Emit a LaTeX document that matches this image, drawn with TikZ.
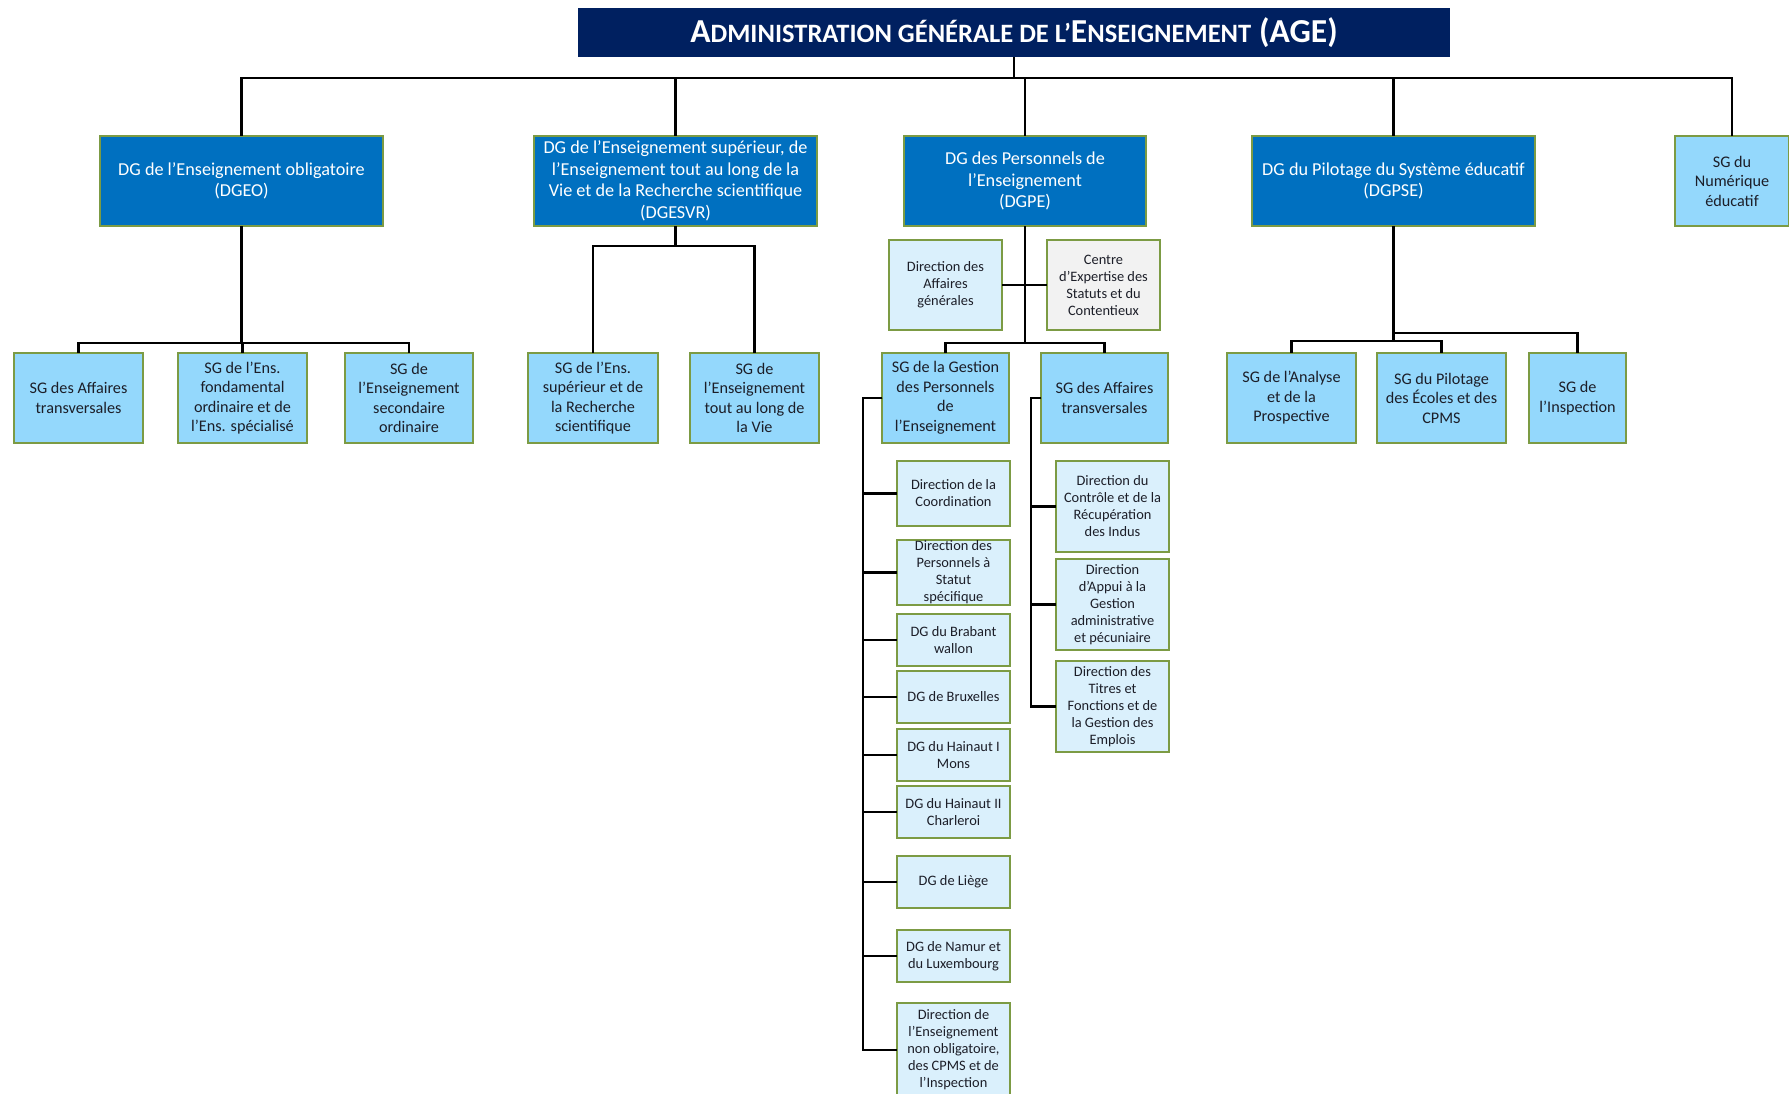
\documentclass[tikz,border=0pt]{standalone}
\usepackage{fontspec}
\setmainfont{Carlito}
\usepackage{xcolor}
\usepackage{tikz}
\usetikzlibrary{positioning}

\definecolor{navy}{RGB}{0,32,96}
\definecolor{dgblue}{RGB}{0,112,192}
\definecolor{sgblue}{RGB}{148,216,252}
\definecolor{dirblue}{RGB}{218,240,252}
\definecolor{cgrey}{RGB}{242,242,242}
\definecolor{boxgreen}{RGB}{124,155,68}
\definecolor{txtdark}{RGB}{28,30,40}

\begin{document}
\begin{tikzpicture}[x=1pt, y=-1pt,
  dg/.style={draw=boxgreen, line width=2.4pt, outer sep=0pt, fill=dgblue, text=white, align=center, inner sep=0pt, minimum height=90pt, font=\fontsize{18.2}{21.5}\selectfont},
  sg/.style={draw=boxgreen, line width=2.4pt, outer sep=0pt, fill=sgblue, text=txtdark, align=center, inner sep=0pt, minimum height=90pt, font=\fontsize{16.2}{19.5}\selectfont},
  dir/.style={draw=boxgreen, line width=2.4pt, outer sep=0pt, fill=dirblue, text=txtdark, align=center, inner sep=0pt, minimum width=113pt, font=\fontsize{14.4}{17}\selectfont},
  link/.style={draw=black, line width=2.1pt}]
 \useasboundingbox (0,0) rectangle (1789,1093);
 % top of the chart
 \node[fill=navy, text=white, minimum width=872pt, minimum height=49pt, font=\bfseries] (AGE) at (1014,32.5)
  {{\fontsize{33.5}{33}\selectfont A}{\fontsize{26.5}{33}\selectfont DMINISTRATION GÉNÉRALE DE L’}{\fontsize{33.5}{33}\selectfont E}{\fontsize{26.5}{33}\selectfont NSEIGNEMENT}\hspace{8pt}{\fontsize{33.5}{33}\selectfont (AGE)}};
 % general directorates
 \node[dg, minimum width=283pt] (DGEO) at (241.5,181) {DG de l’Enseignement obligatoire\\(DGEO)};
 \node[dg, minimum width=283pt] (DGESVR) at (675.5,181) {DG de l’Enseignement supérieur, de\\l’Enseignement tout au long de la\\Vie et de la Recherche scientifique\\(DGESVR)};
 \node[dg, minimum width=242pt] (DGPE) at (1025,181) {DG des Personnels de\\l’Enseignement\\(DGPE)};
 \node[dg, minimum width=283pt] (DGPSE) at (1393.5,181) {DG du Pilotage du Système éducatif\\(DGPSE)};
 \node[sg, minimum width=114pt] (SG_Num) at (1732,181) {SG du\\Numérique\\éducatif};
 % DGEO
 \node[sg, minimum width=129pt] (SG_At) at (78.5,398) {SG des Affaires\\transversales};
 \node[sg, minimum width=129pt] (SG_Fo) at (242.5,398) {SG de l’Ens.\\fondamental\\ordinaire et de\\l’Ens. spécialisé};
 \node[sg, minimum width=128pt] (SG_So) at (409,398) {SG de\\l’Enseignement\\secondaire\\ordinaire};
 % DGESVR
 \node[sg, minimum width=130pt] (SG_Sup) at (593,398) {SG de l’Ens.\\supérieur et de\\la Recherche\\scientifique};
 \node[sg, minimum width=129pt] (SG_Vie) at (754.5,398) {SG de\\l’Enseignement\\tout au long de\\la Vie};
 % DGPE
 \node[dir, minimum height=90pt] (D_AG) at (945.5,285) {Direction des\\Affaires\\générales};
 \node[dir, minimum height=90pt, fill=cgrey, right=45pt of D_AG] (CESC) {Centre\\d’Expertise des\\Statuts et du\\Contentieux};
 \node[sg, minimum width=127pt] (SG_GPE) at (945.5,398) {SG de la Gestion\\des Personnels\\de\\l’Enseignement};
 \node[sg, minimum width=127pt] (SG_AtP) at (1104.5,398) {SG des Affaires\\transversales};
 % DGPSE
 \node[sg, minimum width=129pt] (SG_AP) at (1291.5,398) {SG de l’Analyse\\et de la\\Prospective};
 \node[sg, minimum width=129pt] (SG_PE) at (1441.5,398) {SG du Pilotage\\des Écoles et des\\CPMS};
 \node[sg, minimum width=97pt] (SG_In) at (1577.5,398) {SG de\\l’Inspection};
 % services of the SG de la Gestion des Personnels
 \node[dir, minimum height=65pt] (D_Co) at (953.5,493.5) {Direction de la\\Coordination};
 \node[dir, minimum height=65pt, below=14pt of D_Co] (D_PS) {Direction des\\Personnels à\\Statut\\spécifique};
 \node[dir, minimum height=52pt, below=9pt of D_PS] (DG_BW) {DG du Brabant\\wallon};
 \node[dir, minimum height=52pt, below=5pt of DG_BW] (DG_Bx) {DG de Bruxelles};
 \node[dir, minimum height=52pt, below=6pt of DG_Bx] (DG_HM) {DG du Hainaut I\\Mons};
 \node[dir, minimum height=52pt, below=5pt of DG_HM] (DG_HC) {DG du Hainaut II\\Charleroi};
 \node[dir, minimum height=52pt, below=18pt of DG_HC] (DG_Lg) {DG de Liège};
 \node[dir, minimum height=52pt, below=22pt of DG_Lg] (DG_NL) {DG de Namur et\\du Luxembourg};
 \node[dir, minimum height=94pt, below=21pt of DG_NL] (D_ENO) {Direction de\\l’Enseignement\\non obligatoire,\\des CPMS et de\\l’Inspection};
 % services of the SG des Affaires transversales
 \node[dir, minimum height=91pt] (D_CR) at (1112.5,506.5) {Direction du\\Contrôle et de la\\Récupération\\des Indus};
 \node[dir, minimum height=91pt, below=7pt of D_CR] (D_AGA) {Direction\\d’Appui à la\\Gestion\\administrative\\et pécuniaire};
 \node[dir, minimum height=91pt, below=11pt of D_AGA] (D_TF) {Direction des\\Titres et\\Fonctions et de\\la Gestion des\\Emplois};
 % connectors
 \foreach \n in {DGEO,DGESVR,DGPE,DGPSE,SG_Num}
  \draw[link] (AGE.south) |- ([yshift=58pt]\n.north) -- (\n.north);
 \foreach \n in {SG_At,SG_Fo,SG_So}
  \draw[link] (DGEO.south) |- ([yshift=10pt]\n.north) -- (\n.north);
 \foreach \n in {SG_Sup,SG_Vie}
  \draw[link] (DGESVR.south) |- ([yshift=107pt]\n.north) -- (\n.north);
 \foreach \n in {SG_GPE,SG_AtP}
  \draw[link] (DGPE.south) |- ([yshift=10pt]\n.north) -- (\n.north);
 \draw[link] (D_AG.east) -- (CESC.west);
 \draw[link] (DGPSE.south) |- ([yshift=20pt]SG_In.north) -- (SG_In.north);
 \foreach \n in {SG_AP,SG_PE}
  \draw[link] (DGPSE.south) |- ([yshift=12pt]\n.north) -- (\n.north);
 \foreach \n in {D_Co,D_PS,DG_BW,DG_Bx,DG_HM,DG_HC,DG_Lg,DG_NL,D_ENO}
  \draw[link] (SG_GPE.west) -- ++(-19,0) |- (\n.west);
 \foreach \n in {D_CR,D_AGA,D_TF}
  \draw[link] (SG_AtP.west) -- ++(-10,0) |- (\n.west);
\end{tikzpicture}
\end{document}
